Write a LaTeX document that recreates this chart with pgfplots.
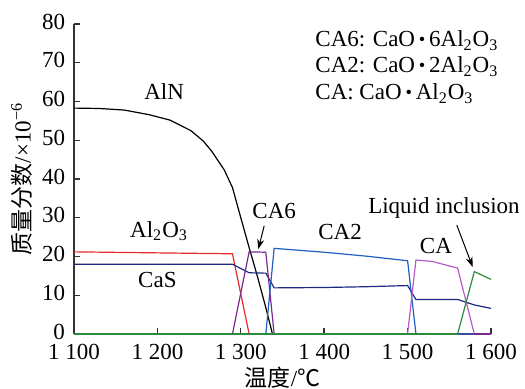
\documentclass[border=0pt]{standalone}
\usepackage{pgfplots}
\pgfplotsset{compat=1.18}
\usepackage{fontspec}
\setmainfont{Liberation Serif}
\newfontfamily\cjk{Noto Sans CJK SC}
\usetikzlibrary{arrows.meta}
\newcommand\f{\fontsize{11.5}{13.8}\selectfont}
\definecolor{cRed}{HTML}{E62B2B}
\definecolor{cNavy}{HTML}{1A2A80}
\definecolor{cBlue}{HTML}{1F5FBF}
\definecolor{cPurple}{HTML}{7A2A8E}
\definecolor{cLilac}{HTML}{B55AC8}
\definecolor{cGreen}{HTML}{2E8B3E}
\begin{document}
\begin{tikzpicture}
\begin{axis}[
  name=ax,
  scale only axis,
  width=208.5pt, height=155pt,
  xmin=1100, xmax=1600, ymin=0, ymax=80,
  axis lines=left,
  axis line style={-, line width=0.8pt, black!80},
  tick align=inside,
  major tick length=3pt,
  tick style={line width=0.7pt, black!80},
  xtick={1100,1200,1300,1400,1500,1600},
  xticklabels={1 100,1 200,1 300,1 400,1 500,1 600},
  ytick={0,10,...,80},
  /pgf/number format/assume math mode=true,
  ticklabel style={font=\f, inner sep=0.8pt},
  xticklabel style={yshift=-3.9pt},
  yticklabel style={yshift=1.2pt, xshift=-3.5pt},
  label style={font=\f},
  xlabel={{\cjk 温度}/{\cjk ℃}},
  ylabel={{\cjk 质量分数}/×10\textsuperscript{−6}},
  xlabel style={at={(axis description cs:0.5,-0.142)}, anchor=center},
  ylabel style={at={(axis description cs:-0.125,0.5)}, anchor=center},
  clip=false,
  every axis plot/.append style={line width=0.6pt, mark=none},
]
\addplot[black] coordinates {(1100,58.3)(1130,58.2)(1160,57.8)(1190,56.6)(1215,55.2)(1240,52.5)(1255,49.8)(1265,47.2)(1280,42.4)(1290,37.8)(1300,30.0)(1310,22.3)(1320,14.8)(1330,6.8)(1338,0)(1600,0)};
\addplot[cRed] coordinates {(1100,21.2)(1290,20.7)(1310,0)(1600,0)};
\addplot[cNavy] coordinates {(1100,18.0)(1290,18.0)(1310,15.8)(1330,15.7)(1340,11.9)(1400,12.0)(1450,12.2)(1500,12.5)(1510,8.9)(1560,8.9)(1580,7.5)(1600,6.6)};
\addplot[cPurple] coordinates {(1100,0)(1290,0)(1310,21.2)(1330,21.1)(1340,0)(1600,0)};
\addplot[cBlue] coordinates {(1100,0)(1330,0)(1340,22.1)(1400,21.1)(1450,20.1)(1500,18.9)(1510,0)(1600,0)};
\addplot[cLilac] coordinates {(1100,0)(1500,0)(1510,19.1)(1530,18.7)(1560,17.0)(1580,0)(1600,0)};
\addplot[cPurple, line width=1pt] coordinates {(1580,0)(1600,0)};
\addplot[cGreen, line width=1pt] coordinates {(1100,0)(1560,0)};
\addplot[cGreen] coordinates {(1560,0)(1580,16.1)(1600,14.1)};

\node[font=\f, anchor=base] at (axis cs:1208,60.4) {AlN};
\node[font=\f, anchor=base] at (axis cs:1202,25.0) {Al\textsubscript{2}O\textsubscript{3}};
\node[font=\f, anchor=base] at (axis cs:1200,12.1) {CaS};
\node[font=\f, anchor=base] at (axis cs:1340,29.7) {CA6};
\node[font=\f, anchor=base] at (axis cs:1419,24.3) {CA2};
\node[font=\f, anchor=base] at (axis cs:1534,20.9) {CA};
\node[font=\f, anchor=base] at (axis cs:1543.6,31.0) {Liquid inclusion};
\draw[-{Stealth[length=5pt,width=3.5pt]}, line width=0.5pt] (axis cs:1328,27.9) -- (axis cs:1321,21.9);
\draw[-{Stealth[length=5pt,width=3.5pt]}, line width=0.5pt] (axis cs:1559,28.1) -- (axis cs:1578,17.3);

\node[font=\f, anchor=base west, inner sep=0pt] at (axis cs:1389,74.1) {CA6: CaO\,\raisebox{0.5pt}{\scalebox{0.8}{•}}\,6Al\textsubscript{2}O\textsubscript{3}};
\node[font=\f, anchor=base west, inner sep=0pt] at (axis cs:1389,67.4) {CA2: CaO\,\raisebox{0.5pt}{\scalebox{0.8}{•}}\,2Al\textsubscript{2}O\textsubscript{3}};
\node[font=\f, anchor=base west, inner sep=0pt] at (axis cs:1389,60.4) {CA: CaO\,\raisebox{0.5pt}{\scalebox{0.8}{•}}\,Al\textsubscript{2}O\textsubscript{3}};
\end{axis}
\pgfresetboundingbox
\path[use as bounding box] ([xshift=-37pt,yshift=-27.5pt]ax.south west) rectangle ([xshift=17pt,yshift=12pt]ax.north east);
\end{tikzpicture}
\end{document}
